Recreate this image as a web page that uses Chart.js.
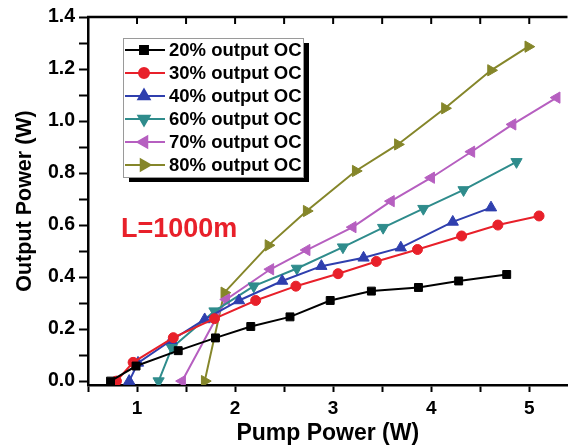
<!DOCTYPE html>
<html>
<head>
<meta charset="utf-8">
<script src="https://cdn.jsdelivr.net/npm/chart.js@4.4.0/dist/chart.umd.min.js"></script>
<style>
  html, body { margin: 0; padding: 0; background: #fff; }
  #wrap { width: 575px; height: 448px; }
</style>
</head>
<body>
<div id="wrap"><canvas id="powerChart" width="575" height="448"></canvas></div>
<script>
// series names
const seriesNames = ['20% output OC', '30% output OC', '40% output OC', '60% output OC', '70% output OC', '80% output OC'];

// pump power (W) / output power (W)
const pump20 = [0.73, 0.99, 1.42, 1.80, 2.16, 2.56, 2.97, 3.39, 3.87, 4.28, 4.77];
const out20  = [0.00, 0.058, 0.117, 0.166, 0.21, 0.247, 0.31, 0.346, 0.36, 0.385, 0.41];

const pump30 = [0.79, 0.96, 1.37, 1.79, 2.21, 2.62, 3.05, 3.44, 3.86, 4.31, 4.68, 5.10];
const out30  = [0.00, 0.072, 0.167, 0.24, 0.31, 0.365, 0.413, 0.46, 0.506, 0.558, 0.60, 0.635];

const pump40 = [0.92, 1.01, 1.35, 1.69, 2.04, 2.48, 2.88, 3.31, 3.69, 4.22, 4.61];
const out40  = [0.00, 0.07, 0.157, 0.237, 0.31, 0.385, 0.442, 0.474, 0.513, 0.612, 0.667];

const pump60 = [1.22, 1.355, 1.79, 2.19, 2.63, 3.10, 3.51, 3.92, 4.33, 4.87];
const out60  = [0.00, 0.128, 0.269, 0.365, 0.433, 0.515, 0.59, 0.663, 0.735, 0.843];

const pump70 = [1.46, 1.91, 2.36, 2.73, 3.20, 3.59, 4.00, 4.41, 4.83, 5.28];
const out70  = [0.00, 0.314, 0.43, 0.504, 0.592, 0.692, 0.782, 0.882, 0.987, 1.09];

const pump80 = [1.69, 1.89, 2.34, 2.73, 3.23, 3.66, 4.14, 4.61, 4.99];
const out80  = [0.00, 0.34, 0.522, 0.654, 0.808, 0.91, 1.049, 1.195, 1.286];

const pumpData = [pump20, pump30, pump40, pump60, pump70, pump80];
const outData = [out20, out30, out40, out60, out70, out80];

const colors = ['#000000', '#e8202a', '#2f3fae', '#2f8c8c', '#b65fc0', '#85862a'];
const markers = ['rect', 'circle', 'triangle', 'triangle', 'triangle', 'triangle'];
const markerRot = [0, 0, 0, 180, 270, 90];
const markerSize = [5.6, 5, 6.5, 6.5, 6.5, 6.5];

Chart.defaults.font.family = '"Liberation Sans", Arial, sans-serif';
Chart.defaults.color = '#000';

const datasets = seriesNames.map((name, i) => ({
    label: name,
    data: pumpData[i].map((x, k) => ({ x: x, y: outData[i][k] })),
    borderColor: colors[i],
    backgroundColor: colors[i],
    borderWidth: 2,
    pointStyle: markers[i],
    rotation: markerRot[i],
    pointRadius: markerSize[i],
    pointBorderWidth: 1,
    pointBorderColor: colors[i],
    pointBackgroundColor: colors[i],
    tension: 0
}));

// frame top, inward top ticks, boxed legend with shadow, and the L=1000m label
const extrasPlugin = {
    id: 'extras',
    afterDraw(chart) {
        const ctx = chart.ctx;
        const area = chart.chartArea;
        const xs = chart.scales.x;
        ctx.save();

        ctx.strokeStyle = '#000';
        ctx.lineWidth = 2.5;
        ctx.beginPath();
        ctx.moveTo(area.left - 1, area.top);
        ctx.lineTo(area.right, area.top);
        ctx.stroke();
        ctx.lineWidth = 2;
        xs.ticks.forEach(t => {
            const px = xs.getPixelForValue(t.value);
            ctx.beginPath();
            ctx.moveTo(px, area.top);
            ctx.lineTo(px, area.top + 7);
            ctx.stroke();
        });

        // legend box
        const bx = 123, by = 38, bw = 180, bh = 139;
        ctx.fillStyle = '#000';
        ctx.fillRect(bx + 6, by + 5, bw, bh);
        ctx.fillStyle = '#fff';
        ctx.fillRect(bx, by, bw, bh);
        ctx.strokeStyle = '#9a9a9a';
        ctx.lineWidth = 1;
        ctx.strokeRect(bx + 0.5, by + 0.5, bw, bh);

        ctx.font = 'bold 18.5px "Liberation Sans", Arial, sans-serif';
        ctx.textBaseline = 'middle';
        ctx.textAlign = 'left';
        chart.data.datasets.forEach((ds, i) => {
            const y = 50 + i * 23;
            ctx.strokeStyle = ds.borderColor;
            ctx.lineWidth = 2;
            ctx.beginPath();
            ctx.moveTo(125, y);
            ctx.lineTo(165, y);
            ctx.stroke();
            Chart.helpers.drawPoint(ctx, {
                pointStyle: ds.pointStyle,
                rotation: ds.rotation,
                radius: ds.pointRadius,
                borderWidth: 1
            }, 144, y);
            ctx.fillStyle = ds.borderColor;
            ctx.fill();
            ctx.fillStyle = '#000';
            ctx.fillText(ds.label, 169, y + 1);
        });

        ctx.font = 'bold 27px "Liberation Sans", Arial, sans-serif';
        ctx.fillStyle = '#e8202a';
        ctx.textBaseline = 'alphabetic';
        ctx.fillText('L=1000m', 121, 237);
        ctx.restore();
    }
};

new Chart(document.getElementById('powerChart'), {
    type: 'line',
    data: { datasets: datasets },
    options: {
        responsive: false,
        devicePixelRatio: 1,
        animation: false,
        layout: { padding: { top: 17, right: 0, left: 0, bottom: 0 } },
        plugins: {
            legend: { display: false },
            tooltip: { enabled: false }
        },
        scales: {
            x: {
                type: 'linear',
                min: 0.5,
                max: 5.39,
                afterFit(scale) { scale.height = 63; },
                border: { color: '#000', width: 2.5 },
                grid: { drawOnChartArea: false, tickLength: 7, tickColor: '#000', tickWidth: 2 },
                ticks: {
                    stepSize: 0.5,
                    includeBounds: false,
                    maxRotation: 0,
                    autoSkip: false,
                    padding: 5,
                    color: '#000',
                    font: { size: 19, weight: 'bold' },
                    callback: v => Math.abs(v - Math.round(v)) < 1e-6 ? String(Math.round(v)) : ''
                },
                title: {
                    display: true,
                    text: 'Pump Power (W)',
                    color: '#000',
                    font: { size: 23, weight: 'bold' },
                    padding: { top: 0, bottom: 1 }
                }
            },
            y: {
                type: 'linear',
                min: -0.015,
                max: 1.4,
                afterFit(scale) { scale.width = 88; },
                border: { color: '#000', width: 2.5 },
                grid: { drawOnChartArea: false, tickLength: 9, tickColor: '#000', tickWidth: 2 },
                ticks: {
                    stepSize: 0.1,
                    includeBounds: false,
                    autoSkip: false,
                    padding: 4,
                    color: '#000',
                    font: { size: 19.5, weight: 'bold' },
                    callback: v => Math.round(v * 10) % 2 === 0 ? v.toFixed(1) : ''
                },
                title: {
                    display: true,
                    text: 'Output Power (W)',
                    color: '#000',
                    font: { size: 21.5, weight: 'bold' },
                    padding: { top: 12, bottom: 0 }
                }
            }
        }
    },
    plugins: [extrasPlugin]
});
</script>
</body>
</html>
